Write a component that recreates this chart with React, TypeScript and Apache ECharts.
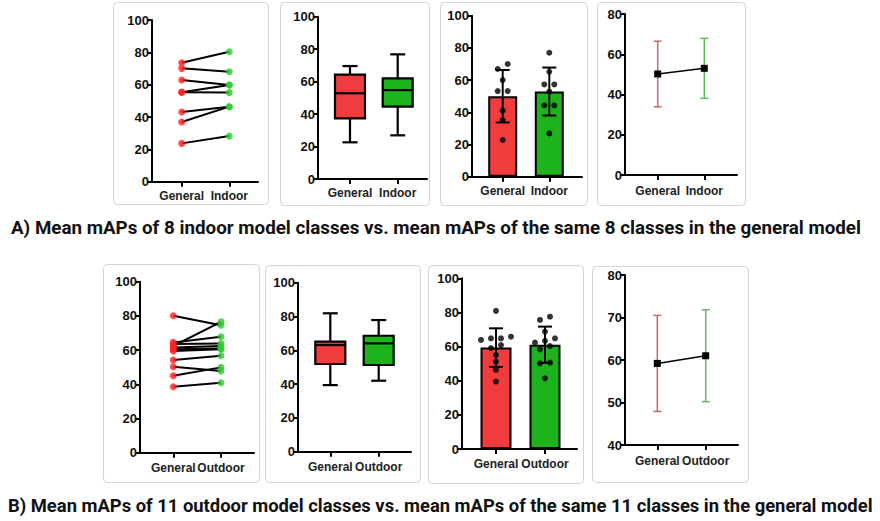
import React, { useEffect, useRef } from 'react';
import * as echarts from 'echarts';

// ---------- data ----------
const indoorCategories = ['General', 'Indoor'];
const outdoorCategories = ['General', 'Outdoor'];

const captionA = 'A) Mean mAPs of 8 indoor model classes vs. mean mAPs of the same 8 classes in the general model';
const captionB = 'B) Mean mAPs of 11 outdoor model classes vs. mean mAPs of the same 11 classes in the general model';

// Panel A1: paired values
const indoorPairGeneral = [73.6, 70.1, 62.9, 55.3, 55.3, 43.1, 36.9, 23.7];
const indoorPairIndoor = [80.4, 68.0, 59.8, 59.8, 55.1, 46.4, 46.4, 28.2];
// Panel A2: box [min, q1, median, q3, max]
const indoorBoxGeneral = [22.6, 37.4, 52.8, 64.3, 69.6];
const indoorBoxIndoor = [26.9, 44.6, 54.8, 62.0, 76.8];
// Panel A3: bars with dots
const indoorDotsGeneral = [70.0, 66.9, 60.0, 53.2, 53.2, 41.0, 35.2, 22.8];
const indoorDotsIndoor = [77.0, 65.2, 57.3, 57.3, 52.8, 44.3, 44.3, 26.9];
const indoorBarMean = [50.0, 52.9];
const indoorBarSD = [16.3, 14.9];
// Panel A4: mean ± SD
const indoorMean = [50.2, 53.0];
const indoorSD = [16.3, 14.9];

// Panel B1
const outdoorPairGeneral = [80.1, 62.4, 64.5, 63.5, 61.5, 60.5, 59.5, 54.2, 50.3, 45.0, 38.6];
const outdoorPairOutdoor = [74.5, 76.5, 67.8, 63.9, 62.4, 61.0, 60.5, 56.7, 47.8, 49.9, 40.9];
// Panel B2
const outdoorBoxGeneral = [39.4, 51.9, 63.1, 65.1, 81.9];
const outdoorBoxOutdoor = [42.0, 51.3, 64.1, 68.6, 77.9];
// Panel B3
const outdoorDotsGeneral = [80.9, 65.8, 64.8, 64.8, 63.9, 60.9, 59.1, 55.1, 51.2, 46.3, 39.5];
const outdoorDotsOutdoor = [77.5, 75.6, 68.8, 64.8, 63.3, 62.3, 60.3, 58.4, 50.6, 50.2, 41.4];
const outdoorBarMean = [59.4, 61.1];
const outdoorBarSD = [11.3, 10.6];
// Panel B4
const outdoorMean = [59.2, 61.0];
const outdoorSD = [11.3, 10.8];

// ---------- style / layout ----------
const RED = '#f03c3c';
const GREEN = '#1cb31c';
const DOT_RED = '#ff2020';
const DOT_GREEN = '#2ecb2e';
const ERR_RED = '#c46a6a';
const ERR_GREEN = '#5cbd5c';
const FONT = '"Liberation Sans", Arial, sans-serif';

type Geo = { L: number; R: number; t0: number; t1: number; top: number; bot: number };
const geoA: Geo[] = [
  { L: 152, R: 258, t0: 181.7, t1: 229.3, top: 20, bot: 181.7 },
  { L: 318, R: 427, t0: 350, t1: 397.7, top: 16.7, bot: 179 },
  { L: 472, R: 582, t0: 502.7, t1: 549.3, top: 15.7, bot: 176.7 },
  { L: 625, R: 737, t0: 657.7, t1: 704.3, top: 14, bot: 175 },
];
const geoB: Geo[] = [
  { L: 140, R: 254, t0: 173.3, t1: 221, top: 281.7, bot: 452.7 },
  { L: 298, R: 411, t0: 330.3, t1: 378.7, top: 282.7, bot: 451.7 },
  { L: 462, R: 577, t0: 496, t1: 545, top: 278.3, bot: 449 },
  { L: 625, R: 738, t0: 657.3, t1: 705.7, top: 275, bot: 445 },
];
const frames = [
  [113, 2, 268, 204], [280, 2, 429, 205], [440, 2, 587, 205], [597, 2, 745, 205],
  [103, 264, 259, 482], [265, 265, 420, 482], [428, 265, 583, 483], [592, 266, 748, 482],
];

function swarmOffsets(values: number[], threshold: number, step: number): number[] {
  const order = values.map((_, i) => i).sort((a, b) => values[b] - values[a]);
  const offsets = new Array(values.length).fill(0);
  let cluster: number[] = [];
  let start = Infinity;
  const flush = () => {
    const n = cluster.length;
    cluster.forEach((i, k) => { offsets[i] = ((n - 1) / 2 - k) * step; });
    cluster = [];
  };
  for (const i of order) {
    if (cluster.length && start - values[i] > threshold) flush();
    if (!cluster.length) start = values[i];
    cluster.push(i);
  }
  flush();
  return offsets;
}

function buildOption() {
  const grid: any[] = [];
  const xAxis: any[] = [];
  const yAxis: any[] = [];
  const series: any[] = [];

  const addFrame = (g: Geo, cats: string[], ymin: number, ymax: number, yint: number, labelMargin: number) => {
    const i = grid.length;
    const u = g.t1 - g.t0;
    grid.push({ left: g.L, top: g.top, width: g.R - g.L, height: g.bot - g.top, outerBoundsMode: 'none' });
    xAxis.push({
      type: 'value', gridIndex: i,
      min: -(g.t0 - g.L) / u, max: 1 + (g.R - g.t1) / u,
      axisLine: { show: true, onZero: false, lineStyle: { color: '#000', width: 2 } },
      axisTick: { show: true, customValues: [0, 1], length: 5, lineStyle: { color: '#000', width: 2 } },
      axisLabel: {
        customValues: [0, 1], margin: labelMargin,
        formatter: (v: number) => cats[Math.round(v)] ?? '',
        color: '#222', fontSize: 12, fontWeight: 'bold', fontFamily: FONT,
      },
      splitLine: { show: false },
    });
    yAxis.push({
      type: 'value', gridIndex: i, min: ymin, max: ymax, interval: yint,
      axisLine: { show: true, onZero: false, lineStyle: { color: '#000', width: 2 } },
      axisTick: { show: true, length: 5, lineStyle: { color: '#000', width: 2 } },
      axisLabel: { color: '#111', fontSize: 13, fontWeight: 'bold', fontFamily: FONT, margin: 3 },
      splitLine: { show: false },
    });
    return i;
  };

  const addPaired = (i: number, a: number[], b: number[]) => {
    a.forEach((v, k) => {
      series.push({
        type: 'line', xAxisIndex: i, yAxisIndex: i, symbol: 'none',
        lineStyle: { color: '#000', width: 2 },
        data: [[0, v], [1, b[k]]], silent: true,
      });
    });
    series.push({
      type: 'scatter', xAxisIndex: i, yAxisIndex: i, symbolSize: 7,
      itemStyle: { color: DOT_RED }, z: 5, data: a.map((v) => [0, v]),
    });
    series.push({
      type: 'scatter', xAxisIndex: i, yAxisIndex: i, symbolSize: 7,
      itemStyle: { color: DOT_GREEN }, z: 5, data: b.map((v) => [1, v]),
    });
  };

  const addBox = (i: number, boxes: number[][]) => {
    const fills = [RED, GREEN];
    series.push({
      type: 'custom', xAxisIndex: i, yAxisIndex: i, coordinateSystem: 'cartesian2d',
      encode: { x: 0, y: [1, 2, 3, 4, 5] },
      data: boxes.map((b, k) => [k, ...b]),
      renderItem: (params: any, api: any) => {
        const x = api.value(0);
        const p = [1, 2, 3, 4, 5].map((d) => api.coord([x, api.value(d)]));
        const cx = p[0][0];
        const bw = 30, cw = 15;
        const ls = { stroke: '#000', lineWidth: 2.2 };
        return {
          type: 'group',
          children: [
            { type: 'line', shape: { x1: cx, y1: p[4][1], x2: cx, y2: p[3][1] }, style: ls },
            { type: 'line', shape: { x1: cx, y1: p[1][1], x2: cx, y2: p[0][1] }, style: ls },
            { type: 'line', shape: { x1: cx - cw / 2, y1: p[4][1], x2: cx + cw / 2, y2: p[4][1] }, style: ls },
            { type: 'line', shape: { x1: cx - cw / 2, y1: p[0][1], x2: cx + cw / 2, y2: p[0][1] }, style: ls },
            { type: 'rect', shape: { x: cx - bw / 2, y: p[3][1], width: bw, height: p[1][1] - p[3][1] }, style: { fill: fills[params.dataIndex], stroke: '#000', lineWidth: 2.2 } },
            { type: 'line', shape: { x1: cx - bw / 2, y1: p[2][1], x2: cx + bw / 2, y2: p[2][1] }, style: ls },
          ],
        };
      },
    });
  };

  const addErr = (i: number, means: number[], sds: number[], colors: string[], cap: number, lw: number) => {
    series.push({
      type: 'custom', xAxisIndex: i, yAxisIndex: i, coordinateSystem: 'cartesian2d',
      encode: { x: 0, y: 1 },
      data: means.map((m, k) => [k, m, sds[k]]),
      z: 4,
      renderItem: (params: any, api: any) => {
        const x = api.value(0), m = api.value(1), s = api.value(2);
        const t = api.coord([x, m + s]);
        const b = api.coord([x, m - s]);
        const st = { stroke: colors[params.dataIndex], lineWidth: lw };
        return {
          type: 'group',
          children: [
            { type: 'line', shape: { x1: t[0], y1: t[1], x2: b[0], y2: b[1] }, style: st },
            { type: 'line', shape: { x1: t[0] - cap / 2, y1: t[1], x2: t[0] + cap / 2, y2: t[1] }, style: st },
            { type: 'line', shape: { x1: b[0] - cap / 2, y1: b[1], x2: b[0] + cap / 2, y2: b[1] }, style: st },
          ],
        };
      },
    });
  };

  const addBarDots = (i: number, g: Geo, means: number[], sds: number[], dotsA: number[], dotsB: number[], barW: number) => {
    series.push({
      type: 'bar', xAxisIndex: i, yAxisIndex: i, barWidth: barW, z: 2,
      itemStyle: { borderColor: '#000', borderWidth: 2 },
      data: means.map((m, k) => ({ value: [k, m], itemStyle: { color: k === 0 ? RED : GREEN } })),
    });
    addErr(i, means, sds, ['#000', '#000'], 14, 2);
    const step = 10 / (g.t1 - g.t0);
    const oa = swarmOffsets(dotsA, 3.5, step);
    const ob = swarmOffsets(dotsB, 3.5, step);
    series.push({
      type: 'scatter', xAxisIndex: i, yAxisIndex: i, symbolSize: 6, z: 6,
      itemStyle: { color: '#000' },
      data: [...dotsA.map((v, k) => [oa[k], v]), ...dotsB.map((v, k) => [1 + ob[k], v])],
    });
  };

  const addMeanSD = (i: number, means: number[], sds: number[]) => {
    addErr(i, means, sds, [ERR_RED, ERR_GREEN], 8, 1.5);
    series.push({
      type: 'line', xAxisIndex: i, yAxisIndex: i, symbol: 'rect', symbolSize: 7, z: 6,
      lineStyle: { color: '#000', width: 1.5 }, itemStyle: { color: '#000' },
      data: means.map((m, k) => [k, m]),
    });
  };

  // Row A
  let i = addFrame(geoA[0], indoorCategories, 0, 100, 20, 8);
  addPaired(i, indoorPairGeneral, indoorPairIndoor);
  i = addFrame(geoA[1], indoorCategories, 0, 100, 20, 8);
  addBox(i, [indoorBoxGeneral, indoorBoxIndoor]);
  i = addFrame(geoA[2], indoorCategories, 0, 100, 20, 8);
  addBarDots(i, geoA[2], indoorBarMean, indoorBarSD, indoorDotsGeneral, indoorDotsIndoor, 29);
  i = addFrame(geoA[3], indoorCategories, 0, 80, 20, 10);
  addMeanSD(i, indoorMean, indoorSD);

  // Row B
  i = addFrame(geoB[0], outdoorCategories, 0, 100, 20, 9);
  addPaired(i, outdoorPairGeneral, outdoorPairOutdoor);
  i = addFrame(geoB[1], outdoorCategories, 0, 100, 20, 9);
  addBox(i, [outdoorBoxGeneral, outdoorBoxOutdoor]);
  i = addFrame(geoB[2], outdoorCategories, 0, 100, 20, 9);
  addBarDots(i, geoB[2], outdoorBarMean, outdoorBarSD, outdoorDotsGeneral, outdoorDotsOutdoor, 31);
  i = addFrame(geoB[3], outdoorCategories, 40, 80, 10, 10);
  addMeanSD(i, outdoorMean, outdoorSD);

  const graphic: any[] = frames.map(([x1, y1, x2, y2]) => ({
    type: 'rect', z: -10, silent: true,
    shape: { x: x1 + 0.5, y: y1 + 0.5, width: x2 - x1, height: y2 - y1, r: 4 },
    style: { fill: 'none', stroke: '#d4d4d4', lineWidth: 1 },
  }));
  graphic.push({
    type: 'text', x: 11, y: 228,
    style: { text: captionA, fill: '#111', fontSize: 18.8, fontWeight: 'bold', fontFamily: 'Roboto, sans-serif', textVerticalAlign: 'middle', verticalAlign: 'middle' },
  });
  graphic.push({
    type: 'text', x: 8, y: 505,
    style: { text: captionB, fill: '#111', fontSize: 18.4, fontWeight: 'bold', fontFamily: 'Roboto, sans-serif', textVerticalAlign: 'middle', verticalAlign: 'middle' },
  });

  return { animation: false, backgroundColor: '#fff', grid, xAxis, yAxis, series, graphic };
}

export default function App() {
  const ref = useRef<HTMLDivElement>(null);
  useEffect(() => {
    if (!ref.current) return;
    const chart = echarts.init(ref.current, undefined, { renderer: 'svg' });
    chart.setOption(buildOption() as any);
    return () => chart.dispose();
  }, []);
  return <div ref={ref} style={{ position: 'absolute', left: 0, top: 0, width: 880, height: 521 }} />;
}
